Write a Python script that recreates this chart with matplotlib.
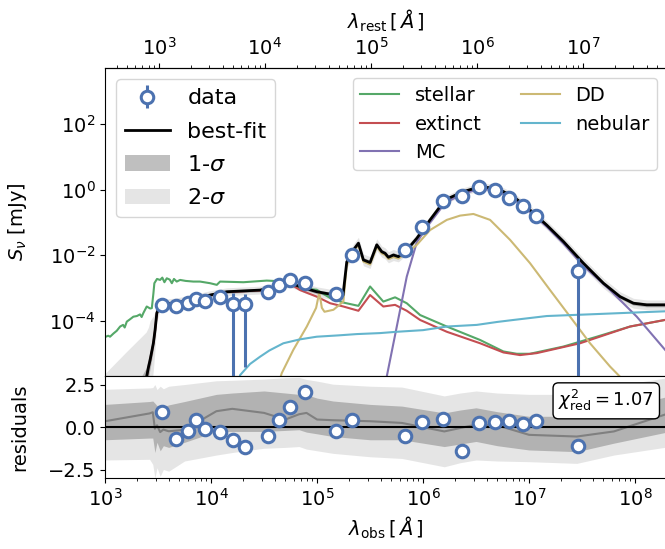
import numpy as np
import matplotlib.pyplot as plt
import matplotlib.ticker as mticker

plt.rcParams['font.size'] = 14
plt.rcParams['mathtext.fontset'] = 'dejavusans'

redshift = 2.22

c_blue = '#4C72B0'
c_green = '#55A868'
c_red = '#C44E52'
c_purple = '#8172B2'
c_tan = '#CCB974'
c_cyan = '#64B5CD'

# photometry, observed frame: wavelength [A], flux density [mJy]
data_wave = [3.48e3, 4.65e3, 6.05e3, 7.26e3, 8.75e3, 1.22e4, 1.60e4, 2.08e4,
             3.47e4, 4.40e4, 5.53e4, 7.66e4, 1.52e5, 2.15e5, 6.81e5, 9.75e5,
             1.556e6, 2.35e6, 3.342e6, 4.764e6, 6.442e6, 8.79e6, 1.172e7, 2.884e7]
data_flux = [3.16e-4, 2.95e-4, 3.55e-4, 4.68e-4, 4.07e-4, 5.25e-4, 3.39e-4, 3.39e-4,
             7.59e-4, 1.26e-3, 1.82e-3, 1.45e-3, 6.61e-4, 1.02e-2, 1.48e-2, 7.08e-2,
             0.437, 0.631, 1.17, 0.955, 0.562, 0.309, 0.162, 3.39e-3]
data_err = [2.5e-5, 2.4e-5, 2.8e-5, 3.7e-5, 3.3e-5, 4.2e-5, 3.7e-4, 3.35e-4,
            6.1e-5, 1.0e-4, 1.5e-4, 1.2e-4, 5.3e-5, 8.2e-4, 1.2e-3, 5.7e-3,
            3.5e-2, 5.0e-2, 9.4e-2, 7.6e-2, 4.5e-2, 2.5e-2, 1.3e-2, 4.9e-3]
data_resid = [0.91, -0.73, -0.24, 0.42, -0.12, -0.30, -0.77, -1.17,
              -0.50, 0.42, 1.17, 2.07, -0.24, 0.42, -0.54, 0.28,
              0.48, -1.41, 0.26, 0.28, 0.38, 0.18, 0.38, -1.13]

# best-fit model: log10 wavelength, log10 flux, 2- and 1-sigma spread [dex]
fit_logw = [3.000, 3.200, 3.387, 3.408, 3.425, 3.456, 3.472, 3.488, 3.519, 3.670,
            3.802, 3.991, 4.148, 4.462, 4.620, 4.745, 4.840, 4.903, 4.997, 5.170,
            5.245, 5.280, 5.311, 5.342, 5.390, 5.437, 5.500, 5.563, 5.610, 5.642,
            5.673, 5.720, 5.767, 5.846, 5.941, 6.066, 6.208, 6.380, 6.538, 6.695,
            6.852, 7.009, 7.167, 7.324, 7.512, 7.701, 7.858, 7.984, 8.110, 8.330]
fit_logf = [-7.00, -6.80, -5.79, -5.43, -5.19, -4.67, -4.27, -3.76, -3.51, -3.45,
            -3.36, -3.21, -3.11, -3.06, -2.95, -2.85, -2.95, -3.02, -3.11, -3.21,
            -3.21, -2.20, -2.04, -1.84, -1.63, -2.14, -2.22, -1.68, -1.89, -1.94,
            -2.06, -1.99, -2.04, -1.84, -1.48, -0.92, -0.31, -0.06, 0.09, 0.04,
            -0.21, -0.62, -1.08, -1.58, -2.24, -2.85, -3.26, -3.46, -3.51, -3.51]
fit_spread2 = [1.40, 1.86, 1.45, 1.23, 1.20, 0.82, 0.57, 0.26, 0.16, 0.15,
               0.14, 0.13, 0.12, 0.12, 0.12, 0.12, 0.13, 0.15, 0.15, 0.15,
               0.18, 0.18, 0.18, 0.18, 0.18, 0.18, 0.18, 0.18, 0.17, 0.17,
               0.17, 0.17, 0.16, 0.14, 0.12, 0.12, 0.12, 0.12, 0.12, 0.12,
               0.12, 0.13, 0.13, 0.14, 0.15, 0.15, 0.15, 0.15, 0.15, 0.15]
fit_spread1 = [0.20, 0.30, 0.35, 0.30, 0.26, 0.20, 0.14, 0.08, 0.06, 0.06,
               0.06, 0.05, 0.05, 0.05, 0.05, 0.05, 0.05, 0.06, 0.06, 0.06,
               0.07, 0.07, 0.07, 0.07, 0.07, 0.07, 0.07, 0.07, 0.07, 0.07,
               0.07, 0.07, 0.06, 0.06, 0.05, 0.05, 0.05, 0.05, 0.05, 0.05,
               0.05, 0.05, 0.05, 0.06, 0.06, 0.06, 0.06, 0.06, 0.06, 0.06]

# components: log10 wavelength, log10 flux
stellar_logw = [3.000, 3.030, 3.047, 3.080, 3.110, 3.142, 3.170, 3.185, 3.205, 3.235,
                3.267, 3.300, 3.330, 3.345, 3.361, 3.393, 3.425, 3.441, 3.456, 3.465,
                3.490, 3.519, 3.540, 3.560, 3.582, 3.610, 3.630, 3.650, 3.676, 3.708,
                3.760, 3.833, 3.896, 3.991, 4.054, 4.085, 4.305, 4.525, 4.714, 4.840,
                4.997, 5.123, 5.248, 5.390, 5.500, 5.625, 5.736, 5.846, 5.972, 6.224,
                6.538, 6.758, 6.884, 7.009, 7.324, 7.639, 7.953, 8.330]
stellar_logf = [-4.49, -4.45, -4.48, -4.38, -4.30, -4.17, -4.12, -4.20, -4.02, -3.95,
                -3.87, -3.85, -3.80, -3.88, -3.76, -3.56, -3.62, -3.61, -3.16, -2.85,
                -2.72, -2.75, -2.68, -2.82, -2.70, -2.74, -2.85, -2.72, -2.80, -2.75,
                -2.78, -2.80, -2.80, -2.85, -2.90, -2.80, -2.82, -2.77, -2.80, -3.00,
                -3.05, -3.30, -3.44, -3.54, -2.95, -3.41, -3.28, -3.46, -3.82, -4.17,
                -4.58, -4.93, -5.00, -5.00, -4.78, -4.48, -4.17, -3.94]

extinct_logw = [3.360, 3.387, 3.408, 3.425, 3.456, 3.472, 3.488, 3.519, 3.670, 3.802,
                3.991, 4.148, 4.462, 4.620, 4.745, 4.840, 4.997, 5.123, 5.248, 5.390,
                5.500, 5.625, 5.736, 5.846, 5.972, 6.224, 6.538, 6.758, 6.915, 7.073,
                7.481, 7.953, 8.330]
extinct_logf = [-6.50, -5.80, -5.44, -5.20, -4.68, -4.28, -3.77, -3.52, -3.46, -3.37,
                -3.22, -3.12, -3.07, -2.96, -2.87, -3.06, -3.26, -3.46, -3.56, -3.69,
                -3.21, -3.56, -3.51, -3.69, -3.97, -4.33, -4.68, -4.96, -5.04, -4.98,
                -4.68, -4.17, -3.94]

mc_logw = [5.632, 5.657, 5.752, 5.846, 5.941, 6.066, 6.208, 6.380, 6.538, 6.695,
           6.852, 7.009, 7.167, 7.324, 7.512, 7.764, 8.016, 8.283, 8.330]
mc_logf = [-6.10, -5.70, -4.17, -2.65, -1.60, -1.00, -0.40, -0.12, 0.03, -0.03,
           -0.28, -0.68, -1.13, -1.64, -2.32, -3.06, -3.87, -4.88, -5.05]

dd_logw = [4.632, 4.667, 4.776, 4.903, 4.991, 5.010, 5.019, 5.030, 5.045, 5.070,
           5.154, 5.248, 5.280, 5.311, 5.342, 5.390, 5.437, 5.500, 5.563, 5.610,
           5.642, 5.673, 5.720, 5.767, 5.846, 5.941, 6.066, 6.224, 6.349, 6.475,
           6.632, 6.821, 7.009, 7.198, 7.387, 7.575, 7.764, 7.858, 7.906]
dd_logf = [-5.95, -5.59, -4.88, -4.17, -3.60, -3.30, -3.15, -3.30, -3.60, -3.72,
           -3.66, -3.41, -2.29, -2.08, -1.88, -1.68, -2.19, -2.28, -1.74, -1.94,
           -1.99, -2.11, -2.05, -2.10, -1.93, -1.68, -1.23, -0.92, -0.79, -0.74,
           -0.92, -1.53, -2.24, -3.06, -3.87, -4.68, -5.39, -5.70, -6.10]

nebular_logw = [4.255, 4.274, 4.368, 4.462, 4.550, 4.682, 4.840, 4.997, 5.200, 5.375,
                5.594, 5.752, 6.000, 6.224, 6.507, 6.700, 6.852, 7.167, 7.639, 8.330]
nebular_logf = [-5.95, -5.65, -5.31, -5.09, -4.90, -4.68, -4.56, -4.48, -4.44, -4.40,
                -4.37, -4.33, -4.28, -4.17, -4.12, -4.03, -3.97, -3.85, -3.79, -3.70]

# residual percentiles of the posterior models
res_logw = [3.00, 3.42, 3.45, 3.47, 3.49, 3.52, 3.55, 3.60, 3.75, 4.05,
            4.20, 4.50, 4.70, 4.83, 4.90, 5.00, 5.15, 5.50, 5.80, 6.20,
            6.35, 6.50, 6.70, 7.00, 7.45, 7.80, 8.33]
res_med = [0.34, 0.80, 0.87, -0.10, 0.10, -0.30, -0.15, -0.25, -0.16, 0.93,
           1.07, 0.83, 0.44, 0.75, 0.83, 0.44, 0.40, 0.34, 0.24, -0.26,
           -0.06, 0.14, 0.10, -0.46, -0.56, -0.26, 0.83]
res_hi1 = [1.33, 1.50, 1.53, 1.40, 1.25, 1.30, 1.20, 1.30, 1.50, 1.92,
           2.00, 2.12, 2.00, 1.92, 1.90, 1.70, 1.53, 1.33, 1.23, 0.83,
           1.00, 1.13, 0.90, 0.63, 0.63, 1.03, 1.83]
res_lo1 = [-0.75, -0.65, -0.65, -1.50, -0.90, -1.40, -1.10, -1.20, -0.90, -0.26,
           -0.26, -0.26, -0.20, -0.16, -0.30, -0.40, -0.56, -0.75, -0.75, -1.15,
           -1.00, -0.85, -1.10, -1.35, -1.45, -0.95, -0.26]
res_hi2 = [2.22, 2.30, 2.32, 2.50, 2.20, 2.40, 2.25, 2.40, 2.50, 2.72,
           2.75, 2.82, 2.90, 2.92, 2.80, 2.70, 2.52, 2.40, 2.35, 1.83,
           2.00, 2.12, 2.00, 1.92, 1.92, 2.42, 2.92]
res_lo2 = [-1.94, -1.90, -2.20, -3.00, -2.40, -2.90, -2.50, -2.60, -2.00, -1.65,
           -1.50, -1.25, -1.20, -1.15, -1.30, -1.40, -1.55, -1.75, -1.85, -2.34,
           -2.10, -1.94, -2.00, -2.04, -2.14, -1.65, -1.15]

fig = plt.figure(figsize=(6.65, 5.49), dpi=100)
ax = fig.add_axes([0.158, 0.3151, 0.845, 0.5605])
axr = fig.add_axes([0.158, 0.1293, 0.845, 0.1858], sharex=ax)

fw = 10 ** np.array(fit_logw)
ff = np.array(fit_logf)
s2 = np.array(fit_spread2)
s1 = np.array(fit_spread1)
b2 = ax.fill_between(fw, 10 ** (ff - s2), 10 ** (ff + s2), color='grey', alpha=0.2,
                     lw=0, zorder=1)
b1 = ax.fill_between(fw, 10 ** (ff - s1), 10 ** (ff + s1), color='grey', alpha=0.5,
                     lw=0, zorder=1)

comp = []
for lw_, lf_, col, name in [(stellar_logw, stellar_logf, c_green, 'stellar'),
                            (extinct_logw, extinct_logf, c_red, 'extinct'),
                            (mc_logw, mc_logf, c_purple, 'MC'),
                            (dd_logw, dd_logf, c_tan, 'DD'),
                            (nebular_logw, nebular_logf, c_cyan, 'nebular')]:
    l, = ax.plot(10 ** np.array(lw_), 10 ** np.array(lf_), color=col, lw=1.5,
                 label=name, zorder=2)
    comp.append(l)

best, = ax.plot(fw, 10 ** ff, color='k', lw=2, zorder=3)
eb = ax.errorbar(data_wave, data_flux, yerr=data_err, fmt='o', ms=9, mfc='white',
                 mec=c_blue, mew=2.2, ecolor=c_blue, elinewidth=2.2, capsize=0,
                 zorder=5)

ax.set_xscale('log')
ax.set_yscale('log', nonpositive='clip')
ax.set_xlim(1e3, 2e8)
ax.set_ylim(2.1e-6, 5e3)
ax.set_yticks([1e-4, 1e-2, 1e0, 1e2])
ax.yaxis.set_minor_locator(mticker.NullLocator())
ax.tick_params(axis='x', which='both', bottom=False, labelbottom=False)
ax.set_ylabel('$S_\\nu$ [mJy]')
ax.yaxis.set_label_coords(-0.135, 0.5)

top = ax.secondary_xaxis('top', functions=(lambda w: w / (1 + redshift),
                                            lambda w: w * (1 + redshift)))
top.set_xticks([1e3, 1e4, 1e5, 1e6, 1e7])
top.set_xlabel('$\\lambda_{\\rm rest}\\,[\\,\\AA\\,]$', labelpad=6)

leg1 = ax.legend([eb, best, b1, b2], ['data', 'best-fit', '1-$\\sigma$', '2-$\\sigma$'],
                 loc='upper left', fontsize=16, labelspacing=0.6)
ax.add_artist(leg1)
ax.legend(handles=comp, loc='upper right', ncol=2)

# residual panel
rw = 10 ** np.array(res_logw)
axr.fill_between(rw, res_lo2, res_hi2, color='grey', alpha=0.2, lw=0)
axr.fill_between(rw, res_lo1, res_hi1, color='grey', alpha=0.5, lw=0)
axr.plot(rw, res_med, color='grey', lw=1.5)
axr.axhline(0, color='k', lw=1.5)
axr.plot(data_wave, data_resid, 'o', ms=9, mfc='white', mec=c_blue, mew=2.2)
axr.set_ylim(-3, 3)
axr.set_yticks([-2.5, 0, 2.5])
axr.set_ylabel('residuals')
axr.yaxis.set_label_coords(-0.135, 0.5)
axr.set_xlabel('$\\lambda_{\\rm obs}\\,[\\,\\AA\\,]$')
axr.text(0.977, 0.88, '$\\chi^2_{\\rm red} = 1.07$', transform=axr.transAxes,
         ha='right', va='top', fontsize=13,
         bbox=dict(boxstyle='round', fc='white', ec='k'))

fig.savefig('out.png', dpi=100)
